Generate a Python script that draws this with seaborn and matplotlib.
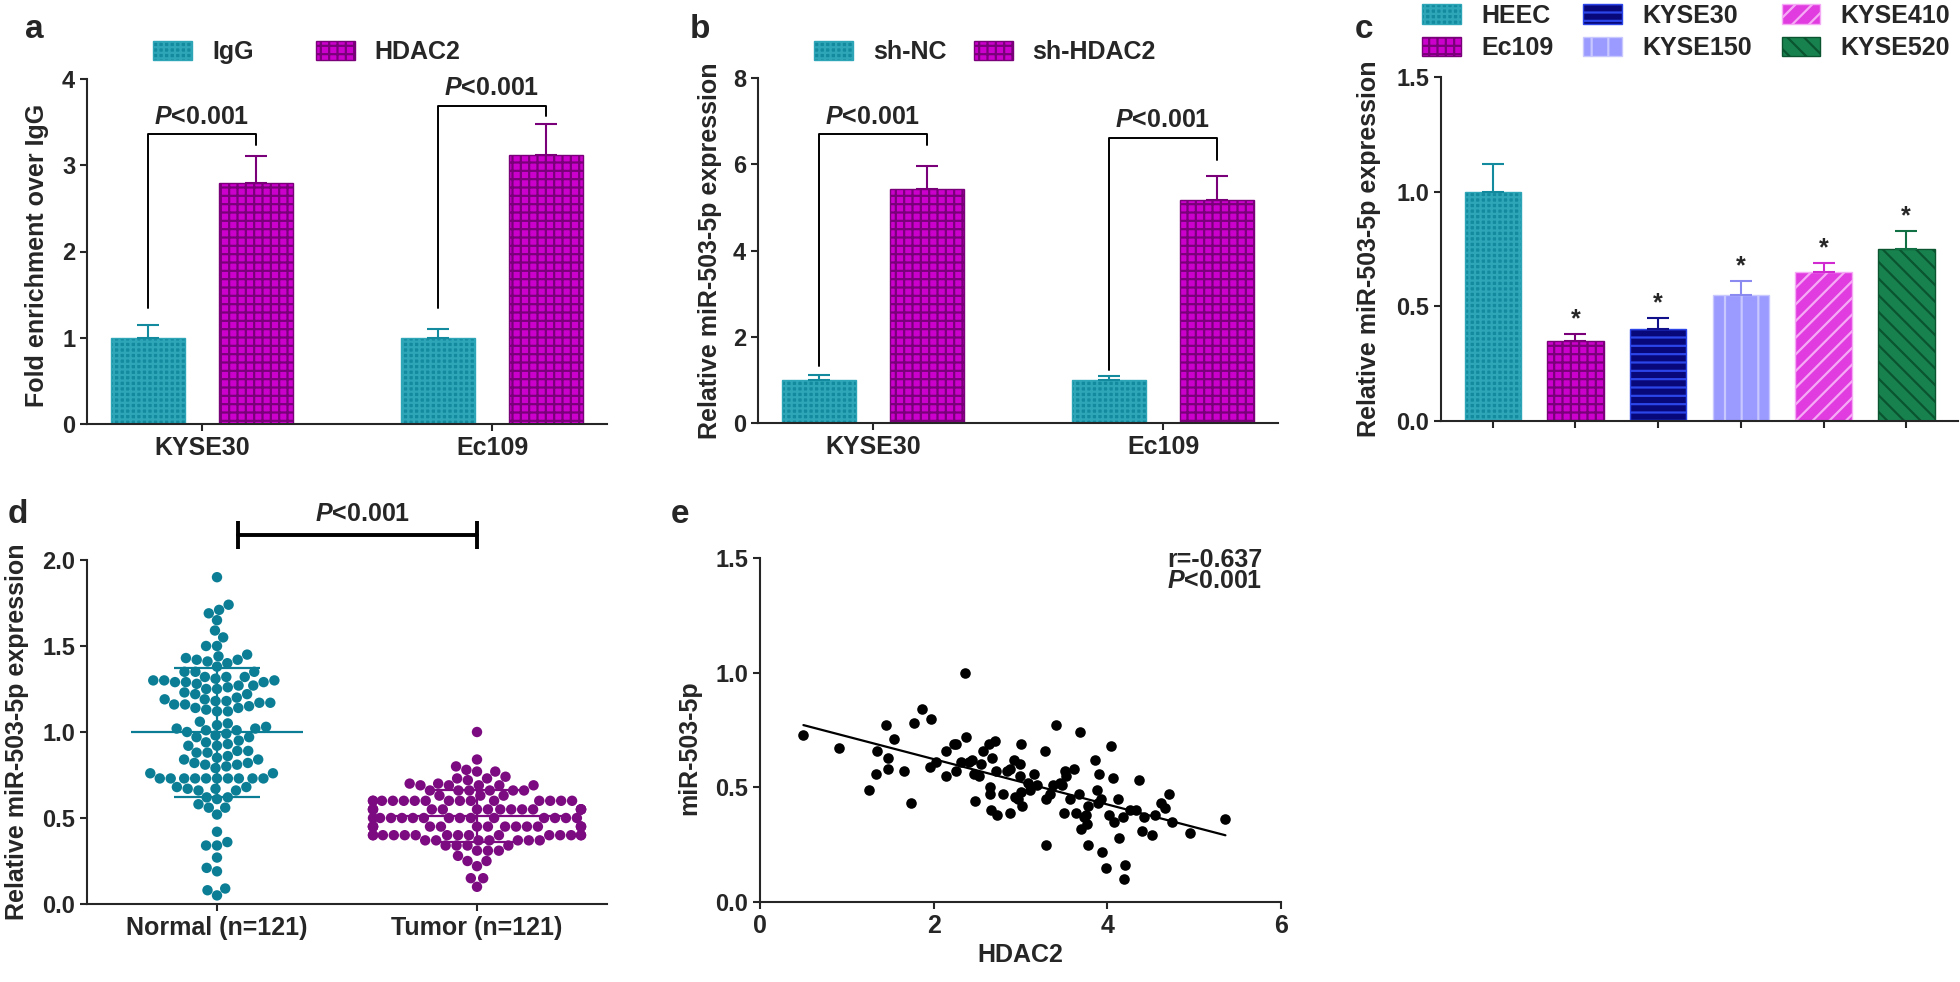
import numpy as np
import pandas as pd
import matplotlib
matplotlib.use("Agg")
import matplotlib.pyplot as plt
import seaborn as sns

# ---------------- data ----------------
# a: ChIP, fold enrichment over IgG
chip_cells = ["KYSE30", "Ec109"]
chip_groups = ["IgG", "HDAC2"]
chip_igg = [1.00, 1.00]
chip_igg_err = [0.15, 0.10]
chip_hdac2 = [2.80, 3.12]
chip_hdac2_err = [0.31, 0.36]
chip_br_low = [1.34, 1.34]
chip_br_high = [3.23, 3.57]
chip_br_top = [3.36, 3.69]

# b: knock-down of HDAC2
kd_groups = ["sh-NC", "sh-HDAC2"]
kd_nc = [1.00, 1.00]
kd_nc_err = [0.12, 0.09]
kd_sh = [5.42, 5.18]
kd_sh_err = [0.55, 0.55]
kd_br_low = [1.33, 1.23]
kd_br_high = [6.45, 6.10]
kd_br_top = [6.70, 6.62]

# c: cell lines
lines = ["HEEC", "Ec109", "KYSE30", "KYSE150", "KYSE410", "KYSE520"]
line_mean = [1.00, 0.35, 0.40, 0.55, 0.65, 0.75]
line_err = [0.12, 0.03, 0.05, 0.06, 0.04, 0.08]
line_star = [False, True, True, True, True, True]

# d: tissues
normal_vals = [
    1.90, 1.74, 1.71, 1.69, 1.65, 1.59, 1.55, 1.50, 1.50,
    1.45, 1.44, 1.43, 1.42, 1.42, 1.41, 1.40, 1.38,
    1.35, 1.35, 1.35, 1.32, 1.32, 1.32, 1.31,
    1.30, 1.30, 1.30, 1.29, 1.29, 1.29, 1.28,
    1.27, 1.27, 1.26, 1.25, 1.25, 1.23, 1.22, 1.22, 1.20, 1.19, 1.19,
    1.18, 1.18, 1.17, 1.17, 1.16, 1.16, 1.15, 1.14, 1.14, 1.13, 1.12, 1.12,
    1.06, 1.05, 1.04, 1.03, 1.02, 1.02, 1.01, 1.01, 1.00, 0.99, 0.98, 0.97, 0.97,
    0.95, 0.94, 0.93, 0.92, 0.92,
    0.89, 0.89, 0.88, 0.88, 0.86, 0.85, 0.84, 0.84,
    0.82, 0.82, 0.81, 0.81, 0.80, 0.79, 0.76, 0.76,
    0.73, 0.73, 0.73, 0.73, 0.73, 0.73, 0.73, 0.73, 0.73, 0.73,
    0.68, 0.68, 0.67, 0.67, 0.66, 0.66,
    0.62, 0.62, 0.61, 0.58, 0.56, 0.56, 0.52,
    0.42, 0.36, 0.34, 0.34, 0.27, 0.21, 0.19, 0.09, 0.08, 0.05,
]
tumor_vals = [
    1.00, 0.84, 0.80, 0.78, 0.77, 0.77, 0.74, 0.73, 0.73, 0.72, 0.70, 0.70,
    0.69, 0.69, 0.69, 0.69, 0.69,
    0.66, 0.66, 0.66, 0.66, 0.66, 0.66,
    0.63, 0.63, 0.63,
    0.60, 0.60, 0.60, 0.60, 0.60, 0.60, 0.60, 0.60, 0.60, 0.60, 0.60, 0.60, 0.60, 0.60, 0.60,
    0.55, 0.55, 0.55, 0.55, 0.55, 0.55, 0.55, 0.55, 0.55, 0.55, 0.55, 0.55, 0.55, 0.55, 0.55,
    0.50, 0.50, 0.50, 0.50, 0.50, 0.50, 0.50, 0.50, 0.50, 0.50, 0.50, 0.50, 0.50, 0.50,
    0.45, 0.45, 0.45, 0.45, 0.45, 0.45, 0.45, 0.45, 0.45, 0.45, 0.45, 0.45, 0.45, 0.45, 0.45,
    0.40, 0.40, 0.40, 0.40, 0.40, 0.40, 0.40, 0.40, 0.40, 0.40, 0.40, 0.40, 0.40, 0.40, 0.40,
    0.37, 0.37, 0.37, 0.37, 0.37, 0.37, 0.37,
    0.34, 0.34, 0.34, 0.34, 0.31, 0.31, 0.31,
    0.28, 0.25, 0.25, 0.22, 0.15, 0.15, 0.10,
]
tissue_labels = ["Normal (n=121)", "Tumor (n=121)"]

# e: correlation HDAC2 vs miR-503-5p
hdac2 = [0.50, 0.91, 1.25, 1.35, 1.34, 1.45, 1.47, 1.47, 1.54, 1.66,
         1.74, 1.77, 1.87, 1.97, 1.96, 2.03, 2.14, 2.14, 2.23, 2.26,
         2.26, 2.32, 2.36, 2.37, 2.41, 2.44, 2.46, 2.48, 2.52, 2.54,
         2.57, 2.64, 2.65, 2.65, 2.66, 2.67, 2.71, 2.72, 2.73, 2.80,
         2.84, 2.88, 2.88, 2.92, 2.94, 2.97, 2.99, 2.99, 3.01, 3.01,
         3.02, 3.09, 3.11, 3.16, 3.19, 3.28, 3.29, 3.29, 3.34, 3.38,
         3.41, 3.45, 3.48, 3.50, 3.51, 3.52, 3.57, 3.62, 3.64, 3.67,
         3.69, 3.70, 3.73, 3.76, 3.77, 3.78, 3.78, 3.86, 3.88, 3.89,
         3.90, 3.93, 3.94, 3.99, 4.02, 4.04, 4.07, 4.08, 4.12, 4.13,
         4.18, 4.19, 4.20, 4.26, 4.33, 4.36, 4.40, 4.42, 4.51, 4.55,
         4.62, 4.66, 4.71, 4.75, 4.95, 5.36]
mir503 = [0.73, 0.67, 0.49, 0.66, 0.56, 0.77, 0.63, 0.58, 0.71, 0.57,
          0.43, 0.78, 0.84, 0.80, 0.59, 0.61, 0.66, 0.55, 0.69, 0.69,
          0.57, 0.61, 1.00, 0.72, 0.61, 0.62, 0.56, 0.44, 0.55, 0.60,
          0.66, 0.69, 0.50, 0.47, 0.40, 0.63, 0.70, 0.57, 0.38, 0.47,
          0.57, 0.58, 0.39, 0.62, 0.46, 0.45, 0.60, 0.55, 0.69, 0.48,
          0.42, 0.52, 0.49, 0.56, 0.51, 0.66, 0.45, 0.25, 0.47, 0.51,
          0.77, 0.52, 0.51, 0.39, 0.57, 0.55, 0.45, 0.58, 0.39, 0.47,
          0.74, 0.32, 0.37, 0.38, 0.34, 0.25, 0.42, 0.62, 0.49, 0.43,
          0.56, 0.45, 0.22, 0.15, 0.38, 0.68, 0.54, 0.35, 0.45, 0.28,
          0.37, 0.10, 0.16, 0.40, 0.40, 0.53, 0.31, 0.37, 0.29, 0.38,
          0.43, 0.41, 0.47, 0.35, 0.30, 0.36]

# ---------------- style ----------------
TEAL, TEAL_HATCH = "#138A9E", "#2EA6B8"
MAGENTA, PURPLE = "#CC00CC", "#7A007A"
DOT_TEAL, DOT_PURPLE = "#0B7E95", "#7C0A80"

sns.set_style("ticks")
plt.rcParams["font.family"] = ["Liberation Sans", "DejaVu Sans"]
plt.rcParams["font.weight"] = "bold"
plt.rcParams["axes.labelweight"] = "bold"
plt.rcParams["axes.linewidth"] = 1.5
plt.rcParams["xtick.major.width"] = 1.5
plt.rcParams["ytick.major.width"] = 1.5
plt.rcParams["xtick.major.size"] = 5
plt.rcParams["ytick.major.size"] = 5
plt.rcParams["xtick.labelsize"] = 18
plt.rcParams["ytick.labelsize"] = 17
plt.rcParams["axes.labelsize"] = 18
plt.rcParams["hatch.linewidth"] = 1.6
plt.rcParams["mathtext.fontset"] = "custom"
plt.rcParams["mathtext.it"] = "Liberation Sans:italic:bold"
plt.rcParams["mathtext.rm"] = "Liberation Sans:bold"

W, H = 1960, 982


def px_rect(left, top, right, bottom):
    return [left / W, 1 - bottom / H, (right - left) / W, (bottom - top) / H]


fig = plt.figure(figsize=(W / 100, H / 100), dpi=100)
ax_a = fig.add_axes(px_rect(87, 79, 607, 424))
ax_b = fig.add_axes(px_rect(758, 78, 1278, 423))
ax_c = fig.add_axes(px_rect(1441, 77, 1958, 421))
ax_d = fig.add_axes(px_rect(87, 560, 607, 904))
ax_e = fig.add_axes(px_rect(760, 558, 1281, 902))


def grouped_bars(ax, cells, groups, means, errs, br_low, br_high, br_top):
    df = pd.DataFrame({
        "cell": cells * 2,
        "group": [groups[0]] * len(cells) + [groups[1]] * len(cells),
        "value": means[0] + means[1],
    })
    sns.barplot(data=df, x="cell", y="value", hue="group", hue_order=groups,
                palette=[TEAL, MAGENTA], saturation=1, width=0.75, gap=0.32,
                errorbar=None, legend=False, ax=ax)
    styles = [(TEAL_HATCH, "+++", TEAL), (PURPLE, "++", PURPLE)]
    for cont, err, (edge, hatch, ecol) in zip(ax.containers, errs, styles):
        for bar, e in zip(cont, err):
            bar.set_edgecolor(edge)
            bar.set_hatch(hatch)
            bar.set_linewidth(1.0)
            xc = bar.get_x() + bar.get_width() / 2
            ax.errorbar(xc, bar.get_height(), yerr=[[0], [e]], color=ecol,
                        capsize=8, capthick=1.5, elinewidth=1.5)
    # significance brackets
    for i in range(len(cells)):
        b1, b2 = ax.containers[0][i], ax.containers[1][i]
        x1 = b1.get_x() + b1.get_width() / 2
        x2 = b2.get_x() + b2.get_width() / 2
        ax.plot([x1, x1, x2, x2], [br_low[i], br_top[i], br_top[i], br_high[i]],
                color="black", lw=1.4)
        ax.annotate(r"$P$<0.001", xy=((x1 + x2) / 2, br_top[i]), xytext=(0, 4),
                    textcoords="offset points", ha="center", va="bottom",
                    fontsize=18)
    ax.set_xlabel("")
    sns.despine(ax=ax)
    return [ax.containers[0][0], ax.containers[1][0]]


# ---- a ----
h_a = grouped_bars(ax_a, chip_cells, chip_groups, [chip_igg, chip_hdac2],
                   [chip_igg_err, chip_hdac2_err], chip_br_low, chip_br_high, chip_br_top)
ax_a.set_ylim(0, 4)
ax_a.set_yticks([0, 1, 2, 3, 4])
ax_a.set_ylabel("Fold enrichment over IgG")
ax_a.yaxis.set_label_coords(-0.073, 0.49)
fig.legend(h_a, chip_groups, loc="center", bbox_to_anchor=(307 / W, 1 - 52 / H),
           ncol=2, frameon=False, fontsize=18, handlelength=1.55, handleheight=0.8,
           handletextpad=0.8, columnspacing=2.5)

# ---- b ----
h_b = grouped_bars(ax_b, chip_cells, kd_groups, [kd_nc, kd_sh], [kd_nc_err, kd_sh_err],
                   kd_br_low, kd_br_high, kd_br_top)
ax_b.set_ylim(0, 8)
ax_b.set_yticks([0, 2, 4, 6, 8])
ax_b.set_ylabel("Relative miR-503-5p expression")
ax_b.yaxis.set_label_coords(-0.069, 0.5)
fig.legend(h_b, kd_groups, loc="center", bbox_to_anchor=(985 / W, 1 - 52 / H),
           ncol=2, frameon=False, fontsize=18, handlelength=1.55, handleheight=0.8,
           handletextpad=0.8, columnspacing=1.1)

# ---- c ----
c_faces = [TEAL, MAGENTA, "#08087A", "#9A9AFF", "#E03CE0", "#18824F"]
c_edges = [TEAL_HATCH, PURPLE, "#2B45E8", "#C8C8FF", "#F6AAF6", "#0A5530"]
c_hatch = ["+++", "++", "--", "|", "//", "\\\\"]
c_errcol = [TEAL, PURPLE, "#10108A", "#8A8AF0", "#D02AD0", "#127045"]
sns.barplot(x=lines, y=line_mean, hue=lines, palette=c_faces, saturation=1,
            width=0.685, errorbar=None, legend=False, ax=ax_c)
for bar, m, e, ed, ht, ec, star in zip(ax_c.patches, line_mean, line_err, c_edges,
                                       c_hatch, c_errcol, line_star):
    bar.set_edgecolor(ed)
    bar.set_hatch(ht)
    bar.set_linewidth(1.0)
    xc = bar.get_x() + bar.get_width() / 2
    ax_c.errorbar(xc, m, yerr=[[0], [e]], color=ec, capsize=8, capthick=1.5,
                  elinewidth=1.5)
    if star:
        ax_c.annotate("*", xy=(xc, m + e), xytext=(0, 2), textcoords="offset points",
                      ha="center", va="bottom", fontsize=18)
ax_c.set_ylim(0, 1.5)
ax_c.set_yticks([0, 0.5, 1.0, 1.5])
ax_c.set_yticklabels(["0.0", "0.5", "1.0", "1.5"])
ax_c.set_xticks(range(len(lines)))
ax_c.set_xticklabels([])
ax_c.set_ylabel("Relative miR-503-5p expression")
ax_c.yaxis.set_label_coords(-0.116, 0.5)
sns.despine(ax=ax_c)
fig.legend(list(ax_c.patches), lines, loc="center", bbox_to_anchor=(1686 / W, 1 - 32 / H),
           ncol=3, frameon=False, fontsize=18, handlelength=1.55, handleheight=0.8,
           handletextpad=0.8, columnspacing=1.2, labelspacing=0.35)

# ---- d ----
df_d = pd.DataFrame({
    "group": [tissue_labels[0]] * len(normal_vals) + [tissue_labels[1]] * len(tumor_vals),
    "value": normal_vals + tumor_vals,
})
sns.swarmplot(data=df_d, x="group", y="value", hue="group", order=tissue_labels,
              palette=[DOT_TEAL, DOT_PURPLE], size=7.5, legend=False, ax=ax_d)
for i, (vals, col) in enumerate(zip([normal_vals, tumor_vals], [DOT_TEAL, DOT_PURPLE])):
    m, sd = np.mean(vals), np.std(vals, ddof=1)
    ax_d.hlines(m, i - 0.33, i + 0.33, color=col, lw=1.6, zorder=5)
    ax_d.hlines([m - sd, m + sd], i - 0.165, i + 0.165, color=col, lw=1.6, zorder=5)
    ax_d.vlines(i, m - sd, m + sd, color=col, lw=1.6, zorder=5)
ax_d.plot([0.08, 1.0], [2.145, 2.145], color="black", lw=2.8, clip_on=False)
ax_d.vlines([0.08, 1.0], 2.065, 2.225, color="black", lw=2.8, clip_on=False)
ax_d.text(0.56, 2.2, r"$P$<0.001", ha="center", va="bottom", fontsize=18)
ax_d.set_ylim(0, 2.0)
ax_d.set_xlim(-0.5, 1.5)
ax_d.set_yticks([0, 0.5, 1.0, 1.5, 2.0])
ax_d.set_yticklabels(["0.0", "0.5", "1.0", "1.5", "2.0"])
ax_d.set_xlabel("")
ax_d.set_ylabel("Relative miR-503-5p expression")
ax_d.yaxis.set_label_coords(-0.112, 0.5)
sns.despine(ax=ax_d)

# ---- e ----
sns.regplot(x=hdac2, y=mir503, ci=None, color="black", ax=ax_e,
            scatter_kws={"s": 58, "linewidths": 0, "alpha": 1},
            line_kws={"lw": 1.6})
ax_e.set_xlim(0, 6)
ax_e.set_ylim(0, 1.5)
ax_e.set_xticks([0, 2, 4, 6])
ax_e.set_yticks([0, 0.5, 1.0, 1.5])
ax_e.set_yticklabels(["0.0", "0.5", "1.0", "1.5"])
ax_e.set_xlabel("HDAC2")
ax_e.set_ylabel("miR-503-5p")
ax_e.yaxis.set_label_coords(-0.113, 0.45)
ax_e.text(4.69, 1.49, "r=-0.637", ha="left", va="center", fontsize=18)
ax_e.text(4.69, 1.40, r"$P$<0.001", ha="left", va="center", fontsize=18)
sns.despine(ax=ax_e)

# panel letters
for letter, x, y in [("a", 25, 38), ("b", 690, 38), ("c", 1355, 38),
                     ("d", 8, 523), ("e", 671, 523)]:
    fig.text(x / W, 1 - y / H, letter, fontsize=24, fontweight="bold", va="baseline")

fig.savefig("out.png", dpi=100)
